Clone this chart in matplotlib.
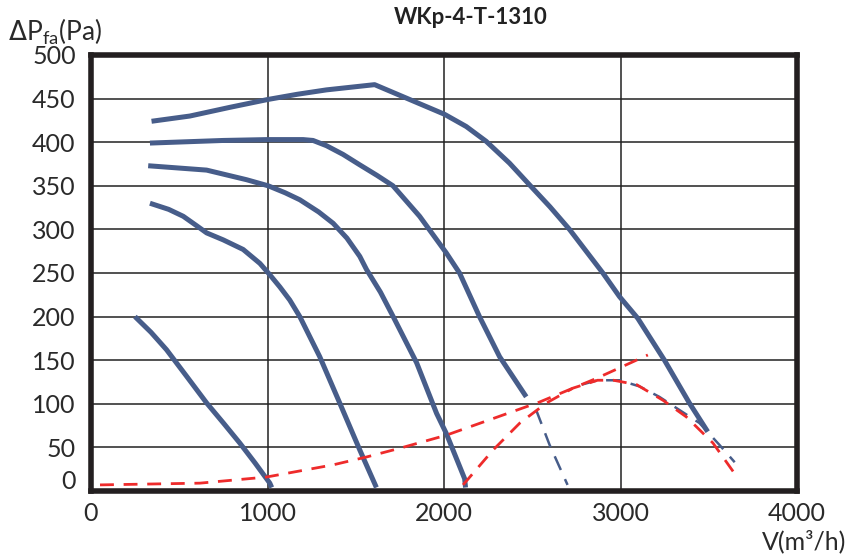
import numpy as np
import matplotlib
matplotlib.use('Agg')
import matplotlib.pyplot as plt
import matplotlib.transforms as mtransforms

plt.rcParams['font.family'] = ['Lato', 'DejaVu Sans']

# fan curves (V m3/h, dP Pa)
c1_v = [343, 560, 787, 1002, 1170, 1334, 1607, 1805, 2003, 2126, 2239, 2371, 2485, 2600, 2711, 2900,
        2994, 3098, 3249, 3390, 3494]
c1_p = [424, 430, 440, 449, 455, 460, 466, 449, 432, 418, 401, 376, 351, 326, 300, 250,
        223, 198, 150, 101, 68]
c2_v = [334, 749, 1000, 1202, 1258, 1334, 1428, 1523, 1620, 1711, 1862, 2013, 2088, 2201, 2315, 2466]
c2_p = [399, 402, 403, 403, 402, 396, 386, 374, 362, 350, 315, 273, 250, 200, 154, 108]
c3_v = [324, 655, 881, 1004, 1100, 1183, 1290, 1372, 1450, 1523, 1561, 1640, 1712, 1845, 1958, 2013,
        2117, 2122]
c3_p = [373, 368, 357, 350, 342, 334, 320, 307, 290, 269, 254, 228, 200, 147, 89, 66, 14, 4]
c4_v = [334, 440, 523, 600, 655, 749, 862, 957, 1013, 1070, 1126, 1183, 1296, 1409, 1523, 1617]
c4_p = [330, 323, 315, 304, 296, 288, 277, 261, 248, 234, 219, 200, 154, 101, 47, 4]
c5_v = [249, 340, 428, 540, 655, 750, 843, 930, 1013, 1024]
c5_p = [200, 182, 162, 132, 101, 78, 55, 32, 9, 4]

# dashed continuations
d2_v = [2522, 2598, 2700]
d2_p = [93, 53, 7]
d1_v = [2780, 2871, 2994, 3107, 3220, 3333, 3447, 3560, 3647]
d1_p = [122, 127, 127, 120, 108, 93, 78, 53, 33]

# red dashed curves
sys_v = [51, 617, 994, 1372, 1561, 1749, 2013, 2541, 2862, 3155]
sys_p = [7, 9, 16, 30, 39, 49, 64, 102, 129, 156]
hump_v = [2108, 2278, 2430, 2581, 2731, 2870, 2960, 3091, 3241, 3373, 3524, 3664]
hump_p = [7, 47, 78, 101, 118, 127, 127, 122, 104, 85, 55, 15]

blue = '#475d8a'
red = '#ee2b2b'
txt = '#2a2a2a'

fig = plt.figure(figsize=(8.59, 5.55), dpi=100)
ax = fig.add_axes([91 / 859, 64 / 555, 706 / 859, 436 / 555])

for v, p in [(c1_v, c1_p), (c2_v, c2_p), (c3_v, c3_p), (c4_v, c4_p), (c5_v, c5_p)]:
    ax.plot(v, p, color=blue, lw=3.6, solid_capstyle='butt', solid_joinstyle='round', zorder=3)
for v, p in [(d2_v, d2_p), (d1_v, d1_p)]:
    ax.plot(v, p, color=blue, lw=1.8, ls=(0, (6, 4)), zorder=3)
ax.plot(sys_v, sys_p, color=red, lw=2.0, ls=(0, (5, 3.5)), zorder=4)
ax.plot(hump_v, hump_p, color=red, lw=2.0, ls=(0, (5, 3.5)), zorder=4)

ax.set_xlim(0, 4000)
ax.set_ylim(0, 500)
ax.set_xticks([0, 1000, 2000, 3000, 4000])
ax.set_yticks(np.arange(0, 501, 50))
ax.grid(True, color='#222222', lw=1.1)
ax.set_axisbelow(True)
for s in ax.spines.values():
    s.set_linewidth(4)
    s.set_color('#231f20')
ax.tick_params(length=0, labelsize=18, labelcolor=txt)
ax.tick_params(axis='y', pad=11)
ax.tick_params(axis='x', pad=8)
# lift the "0" on the y axis a bit, as in the original
lbl0 = ax.get_yticklabels()[0]
lbl0.set_transform(lbl0.get_transform() + mtransforms.ScaledTranslation(0, 8 / 72, fig.dpi_scale_trans))

fig.text(471 / 859, 1 - 18 / 555, 'WKp-4-T-1310', ha='center', va='center',
         fontsize=16, fontweight='bold', color='#222222')
fig.text(8 / 859, 1 - 32 / 555, r'$\Delta$P$_{\mathregular{fa}}$(Pa)', ha='left', va='center',
         fontsize=19, color=txt)
fig.text(846 / 859, 1 - 541 / 555, 'V(m³/h)', ha='right', va='center',
         fontsize=18, color=txt)

fig.savefig('out.png', dpi=100)
